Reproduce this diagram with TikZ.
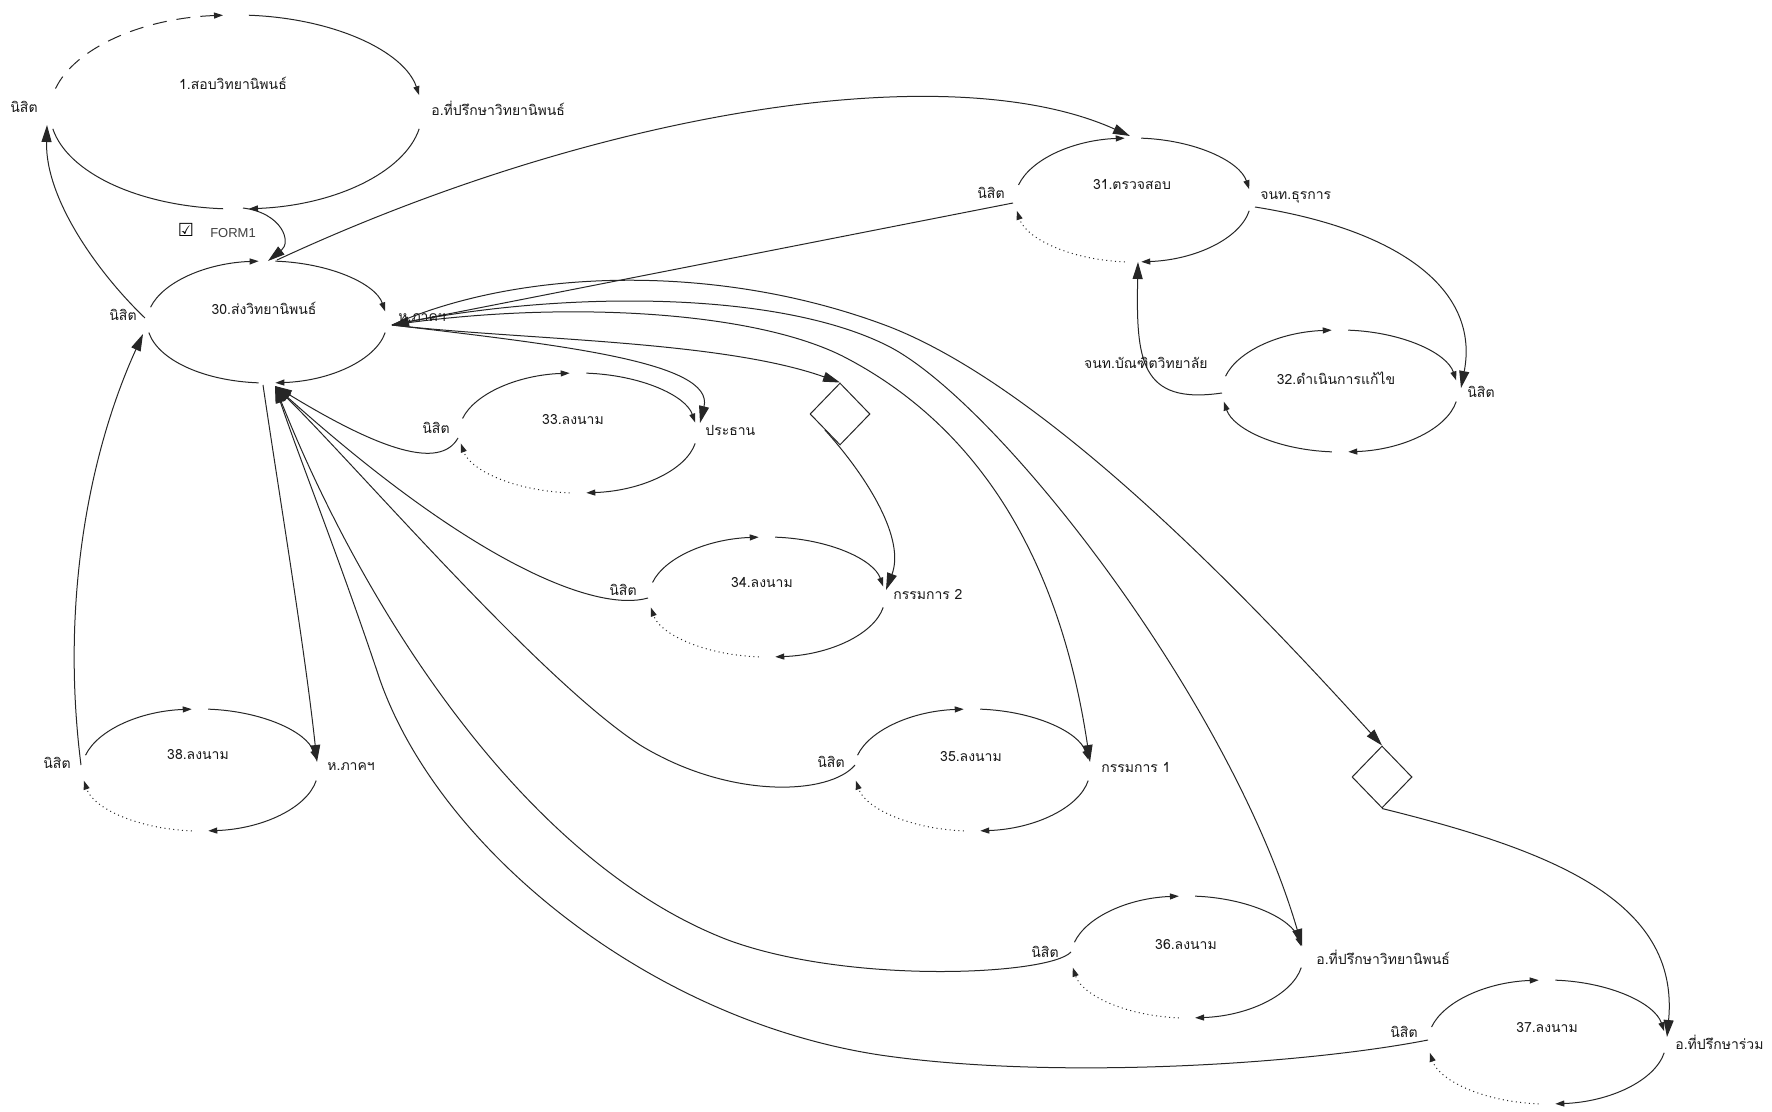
\documentclass[tikz,border=0pt]{standalone}
\usepackage{fontspec}
\newfontfamily\thai[Script=Thai]{Loma}
\newfontfamily\lsans{Liberation Sans}
\newfontfamily\djv{DejaVu Sans}
\usetikzlibrary{arrows.meta,shapes.geometric}
\tikzset{
  ln/.style={line width=0.5pt,draw=black!85},
  tipS/.style={ln,-{Triangle[length=4.5pt,width=3pt]}},
  conn/.style={ln,-{Triangle[length=8.5pt,width=5pt]}},
  dotarc/.style={dash pattern=on 0.5pt off 1.7pt},
  dasharc/.style={dash pattern=on 7pt off 5pt},
  plain/.style={ln},
  lbl/.style={font=\thai\fontsize{7}{8}\selectfont,inner sep=0pt,text=black!90},
  dmd/.style={diamond,draw=black!85,line width=0.5pt,inner sep=0pt,minimum width=30pt,minimum height=31pt},
}
\newcommand\wfloop[7]{%
  \coordinate (#1) at (#2,#3);
  \draw[#6] ([shift={(194:#4 and #5)}]#1) arc[start angle=194,end angle=266,x radius=#4,y radius=#5];
  \draw[tipS] ([shift={(274:#4 and #5)}]#1) arc[start angle=274,end angle=350,x radius=#4,y radius=#5];
  \draw[tipS] ([shift={(10:#4 and #5)}]#1) arc[start angle=10,end angle=86,x radius=#4,y radius=#5];
  \draw[#7] ([shift={(94:#4 and #5)}]#1) arc[start angle=94,end angle=170,x radius=#4,y radius=#5];
}
\begin{document}
\begin{tikzpicture}[x=0.5pt,y=-0.5pt]
\useasboundingbox (0,0) rectangle (1772,1112);
\fill[white] (0,0) rectangle (1772,1112);

% loops
\wfloop{c1}{236}{112}{186}{97}{tipS,dasharc}{plain}
\wfloop{c30}{267}{322}{120}{61}{tipS}{plain}
\wfloop{c31}{1133}{200}{118}{62}{tipS}{tipS,dotarc}
\wfloop{c32}{1340}{391}{118}{61}{tipS}{tipS}
\wfloop{c33}{578}{433}{119}{60}{tipS}{tipS,dotarc}
\wfloop{c34}{767}{597}{118}{60}{tipS}{tipS,dotarc}
\wfloop{c35}{972}{770}{118}{61}{tipS}{tipS,dotarc}
\wfloop{c36}{1187}{957}{116}{61}{tipS}{tipS,dotarc}
\wfloop{c37}{1547}{1042}{119}{62}{tipS}{tipS,dotarc}
\wfloop{c38}{200}{770}{118}{61}{tipS}{tipS,dotarc}

% connection points
\coordinate (b1) at (243,208);
\coordinate (l1) at (47,125);
\coordinate (t30) at (268,261);
\coordinate (t30b) at (277,260);
\coordinate (l30) at (145,318);
\coordinate (l30c) at (143,334);
\coordinate (r30) at (392,325);
\coordinate (b30) at (275,386);
\coordinate (b30d) at (263,385);
\coordinate (t31) at (1130,136);
\coordinate (l31) at (1013,203);
\coordinate (r31) at (1255,207);
\coordinate (b31) at (1138,262);
\coordinate (r32) at (1461,388);
\coordinate (l32) at (1222,393);
\coordinate (l33) at (458,438);
\coordinate (r33) at (700,423);
\coordinate (l34) at (648,598);
\coordinate (r34) at (886,590);
\coordinate (l35) at (855,765);
\coordinate (r35) at (1090,762);
\coordinate (l36) at (1071,952);
\coordinate (r36) at (1302,946);
\coordinate (l37) at (1428,1040);
\coordinate (r37) at (1667,1037);
\coordinate (l38) at (81,765);
\coordinate (r38) at (317,762);

\node[dmd] (d1) at (840,414) {};
\node[dmd] (d2) at (1382,777) {};

% connectors
\draw[conn] (b1) .. controls (282,213) and (292,242) .. (t30);
\draw[conn] (l30) .. controls (100,275) and (45,200) .. (l1);
\draw[conn] (l38) .. controls (60,600) and (90,450) .. (l30c);
\draw[conn] (b30d) .. controls (280,500) and (305,650) .. (r38);
\draw[conn] (t30b) .. controls (600,110) and (950,55) .. (t31);
\draw[conn] (l31) -- (r30);
\draw[conn] (r30) .. controls (560,345) and (715,362) .. (r33);
\draw[conn] (r30) .. controls (520,340) and (720,340) .. (d1.north);
\draw[conn] (r30) .. controls (560,300) and (760,310) .. (850,360) .. controls (980,430) and (1060,560) .. (r35);
\draw[conn] (r30) .. controls (560,290) and (780,290) .. (890,347) .. controls (1000,405) and (1230,700) .. (r36);
\draw[conn] (r30) .. controls (520,268) and (720,262) .. (890,327) .. controls (1050,390) and (1250,600) .. (d2.north);
\draw[conn] (d1.south west) .. controls (870,480) and (905,540) .. (r34);
\draw[conn] (d2.south) .. controls (1550,850) and (1680,900) .. (r37);
\draw[conn] (l33) .. controls (440,470) and (380,450) .. (b30);
\draw[conn] (l34) .. controls (600,612) and (480,570) .. (b30);
\draw[conn] (l35) .. controls (830,795) and (730,800) .. (640,745) .. controls (540,680) and (360,470) .. (b30);
\draw[conn] (l36) .. controls (1050,975) and (850,985) .. (728,940) .. controls (520,860) and (360,600) .. (b30);
\draw[conn] (l37) .. controls (1300,1065) and (1050,1080) .. (880,1055) .. controls (650,1020) and (440,850) .. (380,680) .. controls (340,560) and (300,460) .. (b30);
\draw[conn] (r31) .. controls (1400,230) and (1480,290) .. (r32);
\draw[conn] (l32) .. controls (1140,405) and (1136,360) .. (b31);

% loop names
\node[lbl] (n1) at (233,83) {1.สอบวิทยานิพนธ์};
\node[lbl] (n30) at (264,308) {30.ส่งวิทยานิพนธ์};
\node[lbl] (n31) at (1132,185) {31.ตรวจสอบ};
\node[lbl] (n32) at (1336,378) {32.ดำเนินการแก้ไข};
\node[lbl] (n33) at (573,420) {33.ลงนาม};
\node[lbl] (n34) at (762,583) {34.ลงนาม};
\node[lbl] (n35) at (971,757) {35.ลงนาม};
\node[lbl] (n36) at (1186,945) {36.ลงนาม};
\node[lbl] (n37) at (1547,1028) {37.ลงนาม};
\node[lbl] (n38) at (198,755) {38.ลงนาม};

% left labels
\node[lbl,anchor=east] (a1) at (38,107) {นิสิต};
\node[lbl,anchor=east] (a30) at (137,315) {นิสิต};
\node[lbl,anchor=east] (a31) at (1005,193) {นิสิต};
\node[lbl,anchor=east] (a32) at (1208,363) {จนท.บัณฑิตวิทยาลัย};
\node[lbl,anchor=east] (a33) at (450,428) {นิสิต};
\node[lbl,anchor=east] (a34) at (637,590) {นิสิต};
\node[lbl,anchor=east] (a35) at (845,762) {นิสิต};
\node[lbl,anchor=east] (a36) at (1059,952) {นิสิต};
\node[lbl,anchor=east] (a37) at (1418,1032) {นิสิต};
\node[lbl,anchor=east] (a38) at (71,763) {นิสิต};

% right labels
\node[lbl,anchor=west] (p1) at (431,108) {อ.ที่ปรึกษาวิทยานิพนธ์};
\node[lbl,anchor=west] (p30) at (398,318) {ห.ภาคฯ};
\node[lbl,anchor=west] (p31) at (1260,197) {จนท.ธุรการ};
\node[lbl,anchor=west] (p32) at (1467,392) {นิสิต};
\node[lbl,anchor=west] (p33) at (705,430) {ประธาน};
\node[lbl,anchor=west] (p34) at (893,595) {กรรมการ 2};
\node[lbl,anchor=west] (p35) at (1101,768) {กรรมการ 1};
\node[lbl,anchor=west] (p36) at (1316,957) {อ.ที่ปรึกษาวิทยานิพนธ์};
\node[lbl,anchor=west] (p37) at (1675,1042) {อ.ที่ปรึกษาร่วม};
\node[lbl,anchor=west] (p38) at (327,767) {ห.ภาคฯ};

% form
\node[inner sep=0pt,font=\djv\fontsize{9}{10}\selectfont] (chk) at (186,230) {☑};
\node[inner sep=0pt,font=\lsans\fontsize{6.5}{8}\selectfont,text=black!75] (form) at (233,233) {FORM1};
\end{tikzpicture}
\end{document}
